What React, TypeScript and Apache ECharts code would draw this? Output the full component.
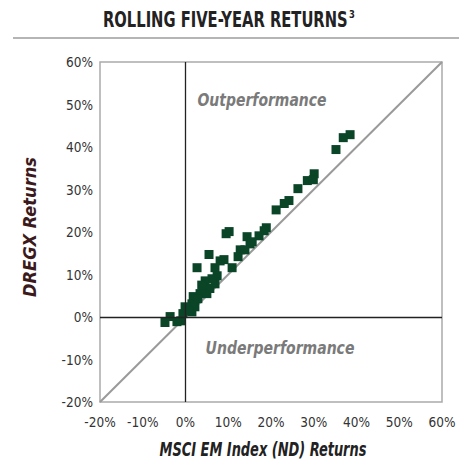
import React, { useEffect, useRef } from "react";
import * as echarts from "echarts";

const xTicks = [-20, -10, 0, 10, 20, 30, 40, 50, 60];
const yTicks = [-20, -10, 0, 10, 20, 30, 40, 50, 60];

// MSCI EM Index (ND) returns, %
const msciReturns = [
  38.5, 36.9, 35.2, 30.1, 28.5, 29.9, 26.3, 24.2, 23.1, 21.2,
  18.9, 18.4, 17.2, 10.2, 9.5, 14.4, 15.1, 15.6, 12.8, 13.9,
  12.3, 5.5, 9.0, 2.7, 6.9, 10.9, 7.4, 4.6, 6.9, 4.1,
  3.4, 5.0, 1.8, 1.5, -0.1, 1.5, -0.6, -3.6, -4.8, -1.1,
  -2.0, 2.9, 5.7, 6.2, 0.6, 2.2, 8.1, 3.8, 0.9,
];
// DREGX returns, %
const dregxReturns = [
  42.9, 42.2, 39.4, 33.7, 32.1, 32.3, 30.2, 27.4, 26.7, 25.2,
  21.0, 20.3, 19.1, 20.1, 19.6, 18.9, 17.2, 17.7, 15.8, 15.8,
  14.2, 14.7, 13.5, 11.6, 11.6, 11.6, 9.7, 8.5, 7.8, 6.9,
  5.5, 5.5, 4.8, 3.1, 2.4, 1.2, 0.8, 0.1, -1.3, -0.9,
  -1.1, 4.3, 6.7, 9.0, 2.0, 2.4, 13.2, 7.5, 1.5,
];
const diagonal = [[-20, -20], [60, 60]];

const FONT = "'Liberation Sans Narrow', 'DejaVu Sans Condensed', 'Roboto Condensed', sans-serif";

function measure(text: string, size: number, style: string) {
  const c = document.createElement("canvas");
  const ctx = c.getContext("2d");
  if (!ctx) return 1;
  ctx.font = `${style} ${size}px ${FONT}`;
  return ctx.measureText(text).width || 1;
}

export default function App() {
  const ref = useRef<HTMLDivElement>(null);
  useEffect(() => {
    if (!ref.current) return;
    const chart = echarts.init(ref.current, undefined, { renderer: "svg" });
    const points = msciReturns.map((x, i) => [x, dregxReturns[i]]);
    const labelText = (
      text: string,
      x: number,
      y: number,
      fill: string,
      targetWidth: number,
      size = 18,
      rotation = 0
    ) => ({
      type: "text",
      x,
      y,
      rotation,
      scaleX: targetWidth / measure(text, size, "italic bold"),
      style: {
        text,
        fontFamily: FONT,
        fontSize: size,
        fontWeight: "bold",
        fontStyle: "italic",
        fill,
        align: "center",
        verticalAlign: "middle",
      },
    });
    const titleText = "ROLLING FIVE-YEAR RETURNS";
    const titleW = 245;
    chart.setOption({
      animation: false,
      backgroundColor: "#fff",
      textStyle: { fontFamily: FONT },
      grid: {
        left: 100,
        top: 62,
        width: 342,
        height: 340,
        show: true,
        borderColor: "#aaaaaa",
        borderWidth: 1.5,
        backgroundColor: "transparent",
        outerBoundsMode: "none",
      },
      xAxis: {
        type: "value",
        min: -20,
        max: 60,
        interval: 10,
        axisLine: { show: false },
        axisTick: { show: false },
        splitLine: { show: false },
        axisLabel: {
          margin: 13,
          fontSize: 13.5,
          color: "#333",
          fontFamily: FONT,
          formatter: (v: number) => (xTicks.includes(v) ? v + "%" : ""),
        },
      },
      yAxis: {
        type: "value",
        min: -20,
        max: 60,
        interval: 10,
        axisLine: { show: false },
        axisTick: { show: false },
        splitLine: { show: false },
        axisLabel: {
          margin: 7,
          fontSize: 13.5,
          color: "#333",
          fontFamily: FONT,
          formatter: (v: number) => (yTicks.includes(v) ? v + "%" : ""),
        },
      },
      series: [
        {
          type: "line",
          data: diagonal,
          symbol: "none",
          lineStyle: { color: "#9a9a9a", width: 2 },
          z: 1,
          silent: true,
          markLine: {
            silent: true,
            symbol: "none",
            label: { show: false },
            lineStyle: { color: "#222", width: 1.3, type: "solid" },
            data: [{ xAxis: 0 }, { yAxis: 0 }],
          },
        },
        {
          type: "scatter",
          data: points,
          symbol: "rect",
          symbolSize: 9,
          itemStyle: { color: "#0b4527", opacity: 1 },
          z: 3,
        },
      ],
      graphic: [
        {
          type: "text",
          x: 103,
          y: 20,
          scaleX: titleW / measure(titleText, 22, "bold"),
          style: {
            text: titleText,
            fontFamily: FONT,
            fontWeight: "bold",
            fontSize: 22,
            fill: "#222",
            align: "left",
            verticalAlign: "middle",
          },
        },
        {
          type: "text",
          x: 103 + titleW + 1,
          y: 9,
          scaleX: 0.85,
          style: {
            text: "3",
            fontFamily: FONT,
            fontWeight: "bold",
            fontSize: 11,
            fill: "#222",
            align: "left",
            verticalAlign: "top",
          },
        },
        {
          type: "line",
          shape: { x1: 13, y1: 38, x2: 459, y2: 38 },
          style: { stroke: "#b5b5b5", lineWidth: 2 },
        },
        labelText("Outperformance", 262, 100, "#7a7a7a", 129),
        labelText("Underperformance", 280, 348, "#7a7a7a", 149),
        labelText("MSCI EM Index (ND) Returns", 263, 449, "#222", 207, 19),
        labelText("DREGX Returns", 30, 227, "#3b1a1c", 140, 18, Math.PI / 2),
      ],
    });
    return () => chart.dispose();
  }, []);
  return (
    <div
      ref={ref}
      style={{ position: "absolute", left: 0, top: 0, width: 469, height: 462 }}
    />
  );
}
